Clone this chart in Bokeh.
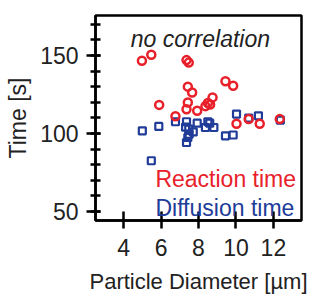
from bokeh.plotting import figure
from bokeh.models import FixedTicker, Label
from bokeh.embed import file_html
from bokeh.resources import INLINE

# Data
reaction_x = [4.98, 5.48, 7.36, 7.48, 5.9, 6.77, 7.43, 7.66, 7.43, 7.36, 7.93, 8.37, 8.5, 8.62, 8.75, 9.44, 9.85, 10.03, 10.68, 11.27, 12.34]
reaction_y = [146.6, 150.4, 147.0, 145.4, 118.3, 111.0, 130.0, 126.3, 119.8, 115.5, 114.5, 117.5, 119.5, 118.5, 123.1, 133.5, 130.6, 106.2, 109.3, 106.2, 109.2]

diffusion_x = [5.0, 5.88, 6.77, 7.36, 7.31, 7.48, 7.72, 7.43, 7.36, 7.5, 7.93, 8.37, 8.5, 8.6, 8.82, 9.44, 9.85, 10.03, 10.68, 11.2, 12.37, 5.48]
diffusion_y = [101.7, 104.5, 107.5, 107.5, 104.0, 102.8, 101.0, 97.4, 94.2, 99.5, 106.6, 103.8, 107.5, 106.6, 103.8, 98.5, 99.0, 112.4, 109.9, 111.3, 108.6, 82.5]

x_ticks = [4, 6, 8, 10, 12]
y_ticks = [50, 100, 150]
y_minor = [50, 60, 70, 80, 90, 100, 110, 120, 130, 140, 150, 160, 170]

RED = "#E8202A"
BLUE = "#203C98"
FONT = "Liberation Sans"

p = figure(width=313, height=296, x_range=(2.5, 13.5), y_range=(44.2, 175.6),
           output_backend="svg", toolbar_location=None,
           min_border_left=95, min_border_right=12, min_border_top=15, min_border_bottom=76)

p.grid.visible = False
p.background_fill_color = "white"
p.border_fill_color = "white"
p.outline_line_color = "black"
p.outline_line_width = 2.5

p.scatter(diffusion_x, diffusion_y, marker="square", size=7, fill_color=None,
          line_color=BLUE, line_width=2.2)
p.scatter(reaction_x, reaction_y, marker="circle", size=8, fill_color=None,
          line_color=RED, line_width=2.5)

for ax in (p.xaxis[0], p.yaxis[0]):
    ax.axis_line_width = 2.5
    ax.axis_line_color = "black"
    ax.major_tick_line_width = 2.5
    ax.minor_tick_line_width = 2.5
    ax.major_label_text_font = FONT
    ax.major_label_text_font_size = "23px"
    ax.major_label_text_color = "#222222"
    ax.axis_label_text_font = FONT
    ax.axis_label_text_font_size = "22px"
    ax.axis_label_text_font_style = "normal"
    ax.axis_label_text_color = "#222222"

p.xaxis.ticker = FixedTicker(ticks=x_ticks, minor_ticks=[])
p.xaxis.major_tick_in = 9
p.xaxis.major_tick_out = 8
p.xaxis.major_label_standoff = 10
p.xaxis.axis_label = "Particle Diameter [µm]"
p.xaxis.axis_label_standoff = 10

p.yaxis.ticker = FixedTicker(ticks=y_ticks, minor_ticks=y_minor)
p.yaxis.major_tick_in = 5
p.yaxis.major_tick_out = 9
p.yaxis.minor_tick_in = 5
p.yaxis.minor_tick_out = 5
p.yaxis.major_label_standoff = 8
p.yaxis.axis_label = "Time [s]"
p.yaxis.axis_label_text_font_size = "23px"
p.yaxis.axis_label_standoff = 6

p.add_layout(Label(x=8.1, y=160.5, text="no correlation", text_align="center",
                   text_baseline="alphabetic", text_font=FONT, text_font_size="23px",
                   text_font_style="italic", text_color="#222222"))
p.add_layout(Label(x=5.7, y=71.0, text="Reaction time", text_align="left",
                   text_baseline="alphabetic", text_font=FONT, text_font_size="23px",
                   text_color=RED))
p.add_layout(Label(x=5.7, y=52.4, text="Diffusion time", text_align="left",
                   text_baseline="alphabetic", text_font=FONT, text_font_size="23px",
                   text_color=BLUE))

open("out.html", "w").write(file_html(p, INLINE))
